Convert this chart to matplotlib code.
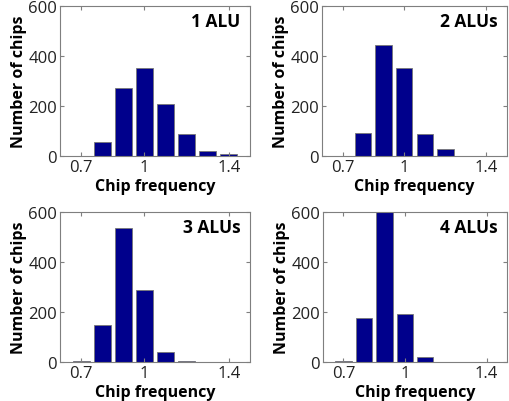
import numpy as np
import matplotlib
matplotlib.use("Agg")
import matplotlib.pyplot as plt

plt.rcParams['font.family'] = ['Open Sans', 'DejaVu Sans']

freq_bins = [0.7, 0.8, 0.9, 1.0, 1.1, 1.2, 1.3, 1.4]
chips_1alu = [0, 57, 273, 353, 209, 87, 20, 7]
chips_2alu = [2, 91, 444, 351, 87, 29, 0, 0]
chips_3alu = [3, 149, 535, 288, 40, 5, 0, 0]
chips_4alu = [3, 178, 605, 193, 21, 0, 0, 0]
titles = ["1 ALU", "2 ALUs", "3 ALUs", "4 ALUs"]
xticks = [0.7, 1.0, 1.4]
xticklabels = ["0.7", "1", "1.4"]
yticks = [0, 200, 400, 600]

# axes boxes in pixels: left, top, right, bottom
W, H = 510, 402
boxes = [(60, 7, 250, 157), (322, 7, 507, 157),
         (60, 213, 250, 363), (323, 213, 507, 363)]

fig = plt.figure(figsize=(W / 100, H / 100), dpi=100)
frame = "#7f7f7f"

for data, title, (l, t, r, b) in zip([chips_1alu, chips_2alu, chips_3alu, chips_4alu], titles, boxes):
    ax = fig.add_axes([l / W, 1 - b / H, (r - l) / W, (b - t) / H])
    ax.bar(freq_bins, data, width=0.08, color="#00008c", edgecolor="#777777", linewidth=0.6)
    ax.set_xlim(0.6, 1.5)
    ax.set_ylim(0, 600)
    ax.set_xticks(xticks)
    ax.set_xticklabels(xticklabels)
    ax.set_yticks(yticks)
    ax.tick_params(direction="in", length=3, color=frame, labelsize=12,
                   top=True, right=True, pad=2, labelcolor="#222222")
    for s in ax.spines.values():
        s.set_color(frame)
        s.set_linewidth(0.8)
    ax.set_xlabel("Chip frequency", fontsize=11.5, fontweight="bold", labelpad=2)
    ax.set_ylabel("Number of chips", fontsize=11.5, fontweight="bold", labelpad=1)
    ax.text(0.95, 0.9, title, transform=ax.transAxes, ha="right", va="center",
            fontsize=12.5, fontweight="bold")

fig.savefig("out.png", dpi=100)
